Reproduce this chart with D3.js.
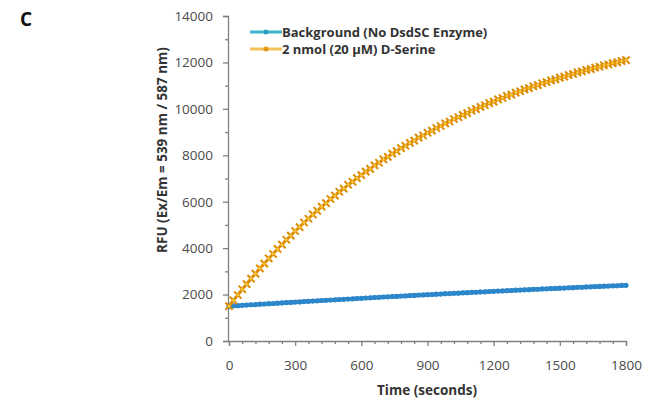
<!DOCTYPE html>
<html>
<head>
<meta charset="utf-8">
<script src="https://cdn.jsdelivr.net/npm/d3@7"></script>
<style>
  body { margin: 0; background: #fff; }
  svg text { font-family: "Open Sans", "DejaVu Sans", sans-serif; }
</style>
</head>
<body>
<svg id="chart" width="654" height="401"></svg>
<script>
// time axis, seconds (one reading every 20 s)
var times = d3.range(0, 1801, 20);

// RFU readings
var background = [
  1500, 1514, 1522, 1538, 1546, 1561, 1569, 1585, 1593, 1608,
  1616, 1631, 1639, 1654, 1662, 1677, 1684, 1700, 1707, 1722,
  1729, 1744, 1751, 1766, 1773, 1788, 1795, 1810, 1817, 1831,
  1838, 1853, 1859, 1874, 1880, 1895, 1901, 1916, 1922, 1936,
  1942, 1957, 1963, 1977, 1983, 1997, 2003, 2017, 2023, 2037,
  2042, 2056, 2062, 2076, 2081, 2095, 2100, 2114, 2119, 2133,
  2138, 2151, 2157, 2170, 2175, 2188, 2193, 2206, 2211, 2224,
  2229, 2242, 2247, 2260, 2264, 2277, 2282, 2294, 2299, 2311,
  2316, 2328, 2332, 2345, 2349, 2361, 2365, 2377, 2381, 2393,
  2400
];

var dSerine = [
  1500, 1752, 1980, 2230, 2448, 2690, 2899, 3131, 3332, 3557,
  3749, 3966, 4150, 4360, 4538, 4738, 4908, 5103, 5266, 5453,
  5610, 5791, 5941, 6116, 6259, 6428, 6566, 6729, 6861, 7018,
  7144, 7296, 7417, 7564, 7680, 7822, 7933, 8070, 8176, 8308,
  8410, 8538, 8635, 8759, 8852, 8971, 9060, 9176, 9261, 9372,
  9454, 9562, 9640, 9744, 9818, 9919, 9990, 10088, 10156, 10250,
  10315, 10406, 10468, 10556, 10615, 10701, 10757, 10840, 10894, 10974,
  11025, 11103, 11151, 11227, 11273, 11346, 11390, 11460, 11502, 11571,
  11610, 11677, 11715, 11779, 11815, 11878, 11911, 11972, 12004, 12063,
  12100
];

var seriesNames = ["Background (No DsdSC Enzyme)", "2 nmol (20 \u00b5M) D-Serine"];
var xTicks = [0, 300, 600, 900, 1200, 1500, 1800];
var yTicks = [0, 2000, 4000, 6000, 8000, 10000, 12000, 14000];

var svg = d3.select("#chart");

var x = d3.scaleLinear().domain([0, 1800]).range([229, 626]);
var y = d3.scaleLinear().domain([0, 14000]).range([341, 16]);

var axisColor = "#808080";
var textColor = "#4a4a4a";

// panel letter
svg.append("text")
  .attr("x", 20).attr("y", 26)
  .attr("font-family", "Liberation Sans, Arial, sans-serif")
  .attr("font-weight", "bold").attr("font-size", 19)
  .attr("fill", "#111")
  .text("C");

// y axis
svg.append("g").attr("transform", "translate(" + 228 + ",0)")
  .call(d3.axisLeft(y).tickValues(yTicks).tickSize(5).tickPadding(10).tickFormat(d3.format("d")));
svg.append("g").attr("transform", "translate(" + 228 + ",0)")
  .call(d3.axisLeft(y).tickValues(d3.range(1000, 14000, 2000)).tickSize(3).tickFormat(""))
  .select(".domain").remove();

// x axis
svg.append("g").attr("transform", "translate(0," + 341 + ")")
  .call(d3.axisBottom(x).tickValues(xTicks).tickSize(5).tickPadding(14).tickFormat(d3.format("d")));
svg.append("g").attr("transform", "translate(0," + 341 + ")")
  .call(d3.axisBottom(x).tickValues(d3.range(60, 1800, 60).filter(function(d){ return d % 300 !== 0; })).tickSize(3).tickFormat(""))
  .select(".domain").remove();

svg.selectAll(".domain").attr("stroke", axisColor).attr("stroke-width", 1.3);
svg.selectAll(".tick line").attr("stroke", axisColor).attr("stroke-width", 1.3);
svg.selectAll(".tick text").attr("fill", textColor).attr("font-size", 13.5)
  .attr("font-family", "Open Sans, sans-serif");

// axis titles
svg.append("text")
  .attr("x", 427).attr("y", 395)
  .attr("text-anchor", "middle")
  .attr("font-weight", "bold").attr("font-size", 13.5)
  .attr("fill", "#333")
  .text("Time (seconds)");

svg.append("text")
  .attr("transform", "translate(167,150) rotate(-90)")
  .attr("text-anchor", "middle")
  .attr("font-weight", "bold").attr("font-size", 13.5)
  .attr("fill", "#333")
  .text("RFU (Ex/Em = 539 nm / 587 nm)");

var line = d3.line()
  .x(function(d, i) { return x(times[i]); })
  .y(function(d) { return y(d); });

// background series
svg.append("path")
  .datum(background)
  .attr("fill", "none")
  .attr("stroke", "#2b87c9")
  .attr("stroke-width", 4)
  .attr("d", line);
svg.append("g").selectAll("circle")
  .data(background)
  .enter().append("circle")
  .attr("cx", function(d, i) { return x(times[i]); })
  .attr("cy", function(d) { return y(d); })
  .attr("r", 2.6)
  .attr("fill", "#2b87c9");

// D-serine series
svg.append("path")
  .datum(dSerine)
  .attr("fill", "none")
  .attr("stroke", "#f0b420")
  .attr("stroke-width", 3)
  .attr("d", line);
var xSym = d3.symbol().type(d3.symbolX).size(36);
svg.append("g").selectAll("path")
  .data(dSerine)
  .enter().append("path")
  .attr("transform", function(d, i) { return "translate(" + x(times[i]) + "," + y(d) + ")"; })
  .attr("d", xSym)
  .attr("fill", "none")
  .attr("stroke", "#dc8a00")
  .attr("stroke-width", 2);
svg.append("g").selectAll("circle")
  .data(dSerine)
  .enter().append("circle")
  .attr("cx", function(d, i) { return x(times[i]); })
  .attr("cy", function(d) { return y(d); })
  .attr("r", 1.5)
  .attr("fill", "#f5c43a");

// legend
var legendColors = ["#3ab4c8", "#f3c25a"];
var legend = svg.append("g").selectAll("g")
  .data(seriesNames)
  .enter().append("g")
  .attr("transform", function(d, i) { return "translate(250," + (32 + i * 17) + ")"; });
legend.append("line")
  .attr("x1", 0).attr("x2", 32)
  .attr("stroke", function(d, i) { return legendColors[i]; })
  .attr("stroke-width", 3);
legend.append("circle")
  .attr("cx", 16).attr("r", 2.5)
  .attr("fill", function(d, i) { return i === 0 ? "#2a9fc0" : "#e59a10"; });
legend.append("text")
  .attr("x", 32).attr("y", 4.5)
  .attr("font-weight", "bold").attr("font-size", 13)
  .attr("fill", "#333")
  .text(function(d) { return d; });
</script>
</body>
</html>
